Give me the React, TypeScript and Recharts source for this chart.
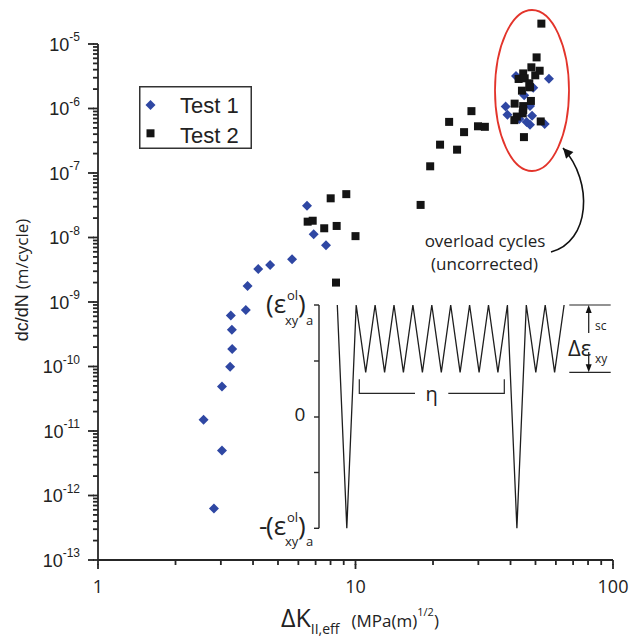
import React from 'react'
import { ScatterChart, Scatter, XAxis, YAxis, ReferenceLine, Legend, Customized } from 'recharts'

// ΔK_II,eff (MPa·m^1/2) and dc/dN (m/cycle)
const test1K = [6.48, 6.88, 7.68, 5.67, 4.66, 4.19, 3.81, 3.75, 3.28, 3.31, 3.32, 3.26, 3.03, 2.57, 3.03, 2.82,
  42.0, 56.4, 49.0, 45.2, 38.3, 47.6, 38.9, 48.5, 46.2, 47.6, 54.3, 43.3]
const test1Rate = [3.1e-8, 1.12e-8, 7.6e-9, 4.6e-9, 3.75e-9, 3.25e-9, 1.77e-9, 7.5e-10, 6.2e-10, 3.7e-10, 1.87e-10, 9.9e-11, 4.9e-11, 1.5e-11, 5.0e-12, 6.3e-13,
  3.2e-6, 2.9e-6, 2.1e-6, 1.6e-6, 1.07e-6, 1.09e-6, 8.0e-7, 7.7e-7, 6.2e-7, 5.6e-7, 5.75e-7, 6.9e-7]

const test2K = [8.01, 9.21, 17.9, 6.52, 6.82, 7.56, 8.45, 10.0, 8.4, 28.2, 23.1, 26.4, 29.9, 31.8, 21.3, 24.8, 19.5,
  52.7, 50.5, 48.2, 51.9, 49.9, 44.8, 43.0, 45.4, 47.3, 47.6, 44.3, 48.0, 41.5, 44.8, 44.8, 44.6, 42.3, 41.4, 52.4, 45.1]
const test2Rate = [4.05e-8, 4.7e-8, 3.2e-8, 1.76e-8, 1.82e-8, 1.39e-8, 1.51e-8, 1.05e-8, 2.0e-9, 9.1e-7, 6.2e-7, 4.3e-7, 5.3e-7, 5.2e-7, 2.75e-7, 2.3e-7, 1.27e-7,
  2.07e-5, 6.2e-6, 4.35e-6, 3.85e-6, 3.27e-6, 3.5e-6, 2.87e-6, 2.94e-6, 2.46e-6, 2.13e-6, 1.89e-6, 1.31e-6, 1.19e-6, 1.09e-6, 9.5e-7, 8.4e-7, 7.5e-7, 6.6e-7, 6.3e-7, 3.6e-7]

const seriesNames = ['Test 1', 'Test 2']

const xTickValues = [1, 2, 3, 4, 5, 6, 7, 8, 9, 10, 20, 30, 40, 50, 60, 70, 80, 90, 100]
const yDecades = [-13, -12, -11, -10, -9, -8, -7, -6, -5]
const minorSteps = [2, 3, 4, 5, 6, 7, 8, 9]
const yTickValues = yDecades.flatMap((d, i) =>
  i < yDecades.length - 1 ? [Math.pow(10, d), ...minorSteps.map((m) => m * Math.pow(10, d))] : [Math.pow(10, d)]
)

// schematic load history in the inset: H = peak, L = small trough, D = overload trough
const wavePattern = 'HDHLHLHLHLHLHLHLHLHDHLHLH'

const test1 = test1K.map((k, i) => ({ x: k, y: test1Rate[i] }))
const test2 = test2K.map((k, i) => ({ x: k, y: test2Rate[i] }))

const BLUE = '#2f47a3'
const BLACK = '#141414'
const AXIS = '#262626'
const SANS = '"Liberation Sans", Arial, sans-serif'
const OPEN = '"Open Sans", sans-serif'
const MINOR = 5
const TICK_W = 1.8

const isMajor = (v: number) => {
  const e = Math.log10(v)
  return Math.abs(e - Math.round(e)) < 1e-6
}

// x, y arrive at the outer end of the (minor-length) tick line drawn by recharts
function YTick(props: any) {
  const { x, y, payload } = props
  const v = payload.value
  if (!isMajor(v)) return <g />
  return (
    <g>
      <path d={`M${x + 1},${y}H${x - 5}`} stroke={AXIS} strokeWidth={TICK_W} fill="none" />
      <text x={x - 13} y={y + 6.5} textAnchor="end" fill="#222" fontFamily={SANS}>
        <tspan fontSize={18}>10</tspan>
        <tspan fontSize={12} dy={-9.5}>{Math.round(Math.log10(v))}</tspan>
      </text>
    </g>
  )
}

function XTick(props: any) {
  const { x, y, payload } = props
  const v = payload.value
  if (!isMajor(v)) return <g />
  return (
    <g>
      <path d={`M${x},${y - 1}V${y + 4}`} stroke={AXIS} strokeWidth={TICK_W} fill="none" />
      <text x={x} y={y + 27.5} textAnchor="middle" fontSize={18} fill="#222" fontFamily={OPEN}>
        {v}
      </text>
    </g>
  )
}

const Diamond = ({ cx, cy, fill }: { cx: number; cy: number; fill: string }) => (
  <polygon points={`${cx},${cy - 5} ${cx + 5},${cy} ${cx},${cy + 5} ${cx - 5},${cy}`} fill={fill} />
)
const Square = ({ cx, cy, fill }: { cx: number; cy: number; fill: string }) => (
  <rect x={cx - 4} y={cy - 4} width={8} height={8} fill={fill} />
)

function LegendBox() {
  return (
    <svg width={113} height={63} style={{ display: 'block' }}>
      <rect x={0.75} y={0.75} width={111.5} height={61.5} fill="#fff" stroke="#333" strokeWidth={1.5} />
      <Diamond cx={11.5} cy={19} fill={BLUE} />
      <text x={41} y={27.3} fontSize={22} fontFamily={SANS} fill="#222">{seriesNames[0]}</text>
      <Square cx={11.5} cy={47.3} fill={BLACK} />
      <text x={41} y={57.3} fontSize={22} fontFamily={SANS} fill="#222">{seriesNames[1]}</text>
    </svg>
  )
}

function Annotations() {
  const hi = 305
  const lo = 372.3
  const deep = 528.3
  const wave = wavePattern
    .split('')
    .map((c, i) => `${(337.3 + i * 9.45).toFixed(1)},${c === 'H' ? hi : c === 'L' ? lo : deep}`)
    .join(' ')
  const sub = { fontFamily: OPEN, fontSize: 13, fill: '#222' }
  const big = { fontFamily: OPEN, fontSize: 26, fill: '#222' }
  return (
    <g>
      <defs>
        <marker id="curveHead" viewBox="0 0 10 10" refX={10} refY={5} markerWidth={13} markerHeight={10}
          markerUnits="userSpaceOnUse" orient="auto">
          <path d="M0,0 L10,5 L0,10 z" fill="#111" />
        </marker>
      </defs>

      {/* axis titles */}
      <text transform="rotate(-90, 28, 280)" x={28} y={280} textAnchor="middle" fill="#222">
        <tspan fontFamily={SANS} fontSize={18}>dc/dN </tspan>
        <tspan fontFamily={OPEN} fontSize={17}>(m/cycle)</tspan>
      </text>
      <text x={281} y={627} fill="#222" fontFamily={OPEN}>
        <tspan fontSize={25}>ΔK</tspan>
        <tspan fontSize={14} dy={7}>II,eff</tspan>
        <tspan fontSize={17} dy={-7} dx={12}>(MPa(m)</tspan>
        <tspan fontSize={11} dy={-11}>1/2</tspan>
        <tspan fontSize={17} dy={11}>)</tspan>
      </text>

      {/* overload cluster */}
      <ellipse cx={532} cy={90.5} rx={37} ry={80.5} fill="none" stroke="#e3342b" strokeWidth={1.8} />
      <path d="M551,252 C590,242 594,182 563,148" fill="none" stroke="#111" strokeWidth={1.6} markerEnd="url(#curveHead)" />
      <text x={485} y={247} textAnchor="middle" fontFamily={OPEN} fontSize={17} fill="#222">overload cycles</text>
      <text x={484.5} y={270} textAnchor="middle" fontFamily={OPEN} fontSize={17} fill="#222">(uncorrected)</text>

      {/* inset: strain history */}
      <line x1={319} x2={319} y1={hi} y2={deep} stroke={AXIS} strokeWidth={1.4} />
      {[hi, 361, 417, 472.5, deep].map((ty) => (
        <line key={ty} x1={314} x2={319} y1={ty} y2={ty} stroke={AXIS} strokeWidth={1.4} />
      ))}
      <polyline points={wave} fill="none" stroke="#1e1e1e" strokeWidth={1.3} strokeLinejoin="miter" />

      <text x={266} y={313} {...big}>(ε</text>
      <text x={287} y={300} {...sub}>ol</text>
      <text x={285} y={325} {...sub}>xy</text>
      <text x={298} y={313} {...big}>)</text>
      <text x={306} y={325} {...sub}>a</text>

      <text x={300} y={421} textAnchor="middle" fontFamily={OPEN} fontSize={19} fill="#222">0</text>

      <text x={259} y={535} {...big}>-</text>
      <text x={266} y={535} {...big}>(ε</text>
      <text x={287} y={522} {...sub}>ol</text>
      <text x={285} y={546} {...sub}>xy</text>
      <text x={298} y={535} {...big}>)</text>
      <text x={306} y={546} {...sub}>a</text>

      <polyline points="359.3,379.3 359.3,393.3 415,393.3" fill="none" stroke={AXIS} strokeWidth={1.2} />
      <polyline points="448.3,393.3 504.3,393.3 504.3,379.3" fill="none" stroke={AXIS} strokeWidth={1.2} />
      <text x={431.7} y={400.5} textAnchor="middle" fontFamily={OPEN} fontSize={20} fill="#222">η</text>

      <line x1={569.3} x2={610.7} y1={hi} y2={hi} stroke={AXIS} strokeWidth={1.2} />
      <line x1={569.3} x2={610.7} y1={lo} y2={lo} stroke={AXIS} strokeWidth={1.2} />
      <line x1={588.7} x2={588.7} y1={hi + 4} y2={333} stroke={AXIS} strokeWidth={1.3} />
      <polygon points={`588.7,${hi} 585.7,${hi + 8} 591.7,${hi + 8}`} fill="#111" />
      <line x1={588.7} x2={588.7} y1={352} y2={lo - 4} stroke={AXIS} strokeWidth={1.3} />
      <polygon points={`588.7,${lo} 585.7,${lo - 8} 591.7,${lo - 8}`} fill="#111" />
      <text x={568} y={356} fontFamily={OPEN} fontSize={22} fill="#222">Δε</text>
      <text x={595} y={330} {...sub} fontSize={12}>sc</text>
      <text x={595} y={363} {...sub} fontSize={12}>xy</text>
    </g>
  )
}

export default function App() {
  return (
    <div style={{ position: 'absolute', left: 0, top: 0, width: 629, height: 637, background: '#fff' }}>
      <ScatterChart width={629} height={637} margin={{ top: 11.75, right: 16, bottom: 17, left: 18 }}>
        <XAxis
          type="number"
          dataKey="x"
          scale="log"
          domain={[1, 100]}
          ticks={xTickValues}
          interval={0}
          height={60}
          tickSize={MINOR}
          tickMargin={0}
          tickLine={{ stroke: AXIS, strokeWidth: TICK_W }}
          axisLine={{ stroke: AXIS, strokeWidth: 1.8 }}
          tick={<XTick />}
        />
        <YAxis
          type="number"
          dataKey="y"
          scale="log"
          domain={[1e-13, Math.pow(10, -4.5)]}
          ticks={yTickValues}
          interval={0}
          width={80}
          tickSize={MINOR}
          tickMargin={0}
          tickLine={{ stroke: AXIS, strokeWidth: TICK_W }}
          axisLine={false}
          tick={<YTick />}
        />
        <ReferenceLine segment={[{ x: 1, y: 1e-13 }, { x: 1, y: 1e-5 }]} stroke={AXIS} strokeWidth={1.8} />
        <Legend
          layout="vertical"
          align="center"
          verticalAlign="middle"
          content={() => <LegendBox />}
          wrapperStyle={{ left: 139, top: 86, width: 113, height: 63 }}
        />
        <Scatter
          name={seriesNames[0]}
          data={test1}
          fill={BLUE}
          isAnimationActive={false}
          shape={(p: any) => <Diamond cx={p.cx} cy={p.cy} fill={BLUE} />}
        />
        <Scatter
          name={seriesNames[1]}
          data={test2}
          fill={BLACK}
          isAnimationActive={false}
          shape={(p: any) => <Square cx={p.cx} cy={p.cy} fill={BLACK} />}
        />
        <Customized component={<Annotations />} />
      </ScatterChart>
    </div>
  )
}
